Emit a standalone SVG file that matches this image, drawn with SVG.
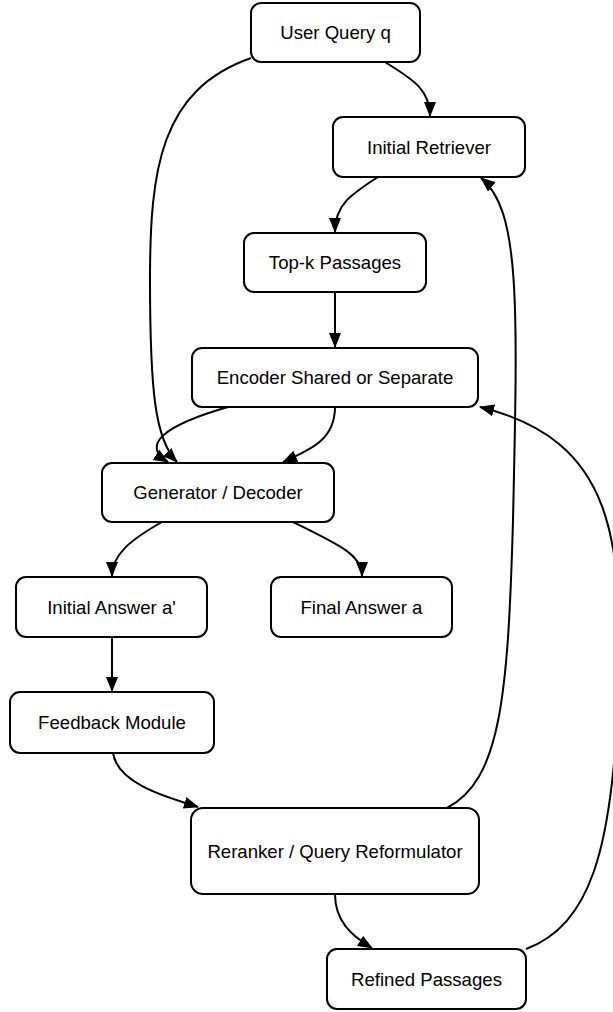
<svg xmlns="http://www.w3.org/2000/svg" width="613" height="1012" viewBox="0 0 613 1012">
<style>
.n rect{fill:#fff;stroke:#000;stroke-width:2}
.n text{font-family:"Liberation Sans",Arial,sans-serif;font-size:18.6px;fill:#000;text-anchor:middle;dominant-baseline:central}
.e path{fill:none;stroke:#000;stroke-width:2;marker-end:url(#a)}
</style>
<defs>
<marker id="a" markerUnits="userSpaceOnUse" markerWidth="15" markerHeight="15" viewBox="0 0 15 15" refX="14" refY="7.5" orient="auto">
<path d="M0,1.5 L15,7.5 L0,13.5 Z" fill="#000"/>
</marker>
</defs>
<rect width="613" height="1012" fill="#fff"/>
<g id="edges" class="e">
<path d="M385,62 C410,78 430,88 430,116"/>
<path d="M251,58 C160,90 150,170 150,280 C150,390 155,440 177,462"/>
<path d="M378,177 C350,195 335,205 335,232"/>
<path d="M335,292 L335,347"/>
<path d="M228,407 C165,425 140,445 168,462"/>
<path d="M335,407 C335,440 310,450 283,462"/>
<path d="M162,522 C130,540 112,555 112,576"/>
<path d="M293,522 C340,545 362,555 362,576"/>
<path d="M112,637 L112,691"/>
<path d="M113,753 C118,785 170,798 198,807"/>
<path d="M447,808 C500,780 508,700 513,520 C518,300 520,210 481,178"/>
<path d="M526,949 C590,925 612,850 618,700 C624,540 615,440 480,407"/>
<path d="M335,894 C335,920 350,935 372,948"/>
</g>
<g id="userQuery" class="n"><rect x="251" y="3" width="169" height="59" rx="10"/><text x="335.5" y="32.5">User Query q</text></g>
<g id="initialRetriever" class="n"><rect x="333" y="117" width="192" height="60" rx="10"/><text x="429" y="147">Initial Retriever</text></g>
<g id="topK" class="n"><rect x="244" y="233" width="182" height="59" rx="10"/><text x="335" y="262.5">Top-k Passages</text></g>
<g id="encoder" class="n"><rect x="192" y="348" width="286" height="59" rx="10"/><text x="335" y="377.5">Encoder Shared or Separate</text></g>
<g id="generator" class="n"><rect x="102" y="463" width="232" height="59" rx="10"/><text x="218" y="492.5">Generator / Decoder</text></g>
<g id="initialAnswer" class="n"><rect x="16" y="577" width="191" height="60" rx="10"/><text x="111.5" y="607">Initial Answer a'</text></g>
<g id="finalAnswer" class="n"><rect x="271" y="577" width="181" height="60" rx="10"/><text x="361.5" y="607">Final Answer a</text></g>
<g id="feedback" class="n"><rect x="10" y="692" width="204" height="61" rx="10"/><text x="112" y="722.5">Feedback Module</text></g>
<g id="reranker" class="n"><rect x="191" y="808" width="288" height="86" rx="12"/><text x="335" y="851">Reranker / Query Reformulator</text></g>
<g id="refined" class="n"><rect x="327" y="949" width="199" height="60" rx="10"/><text x="426.5" y="979">Refined Passages</text></g>
</svg>
